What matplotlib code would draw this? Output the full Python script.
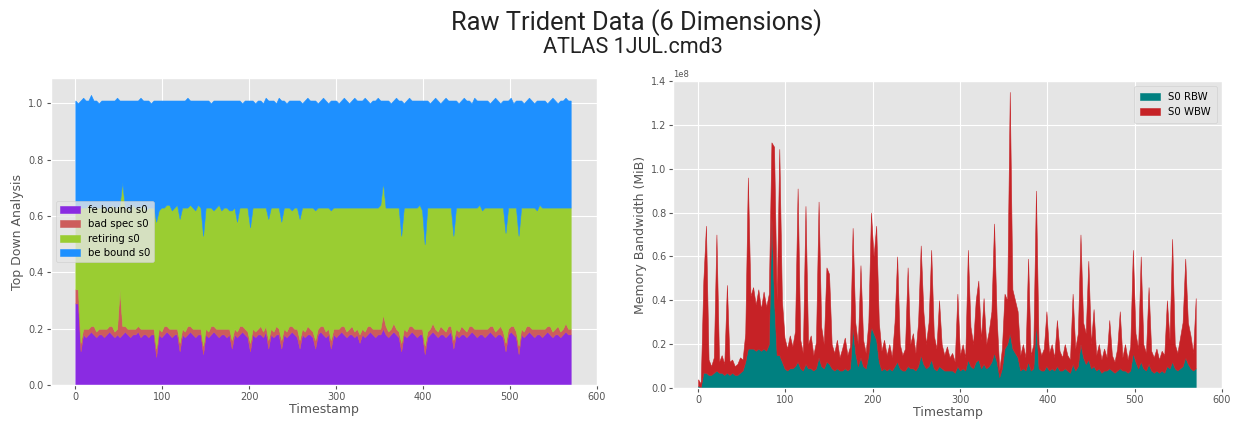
import matplotlib
matplotlib.use("Agg")
import matplotlib.pyplot as plt
import numpy as np

# sampled every 3 timestamps
TIMESTAMPS = np.arange(0, 571, 3)

FE_BOUND = [
    0.29, 0.29, 0.12, 0.18, 0.17, 0.18, 0.19, 0.18, 0.17, 0.18,
    0.18, 0.17, 0.18, 0.19, 0.18, 0.17, 0.18, 0.17, 0.18, 0.19,
    0.18, 0.17, 0.18, 0.18, 0.19, 0.17, 0.18, 0.18, 0.17, 0.18,
    0.18, 0.10, 0.18, 0.17, 0.18, 0.19, 0.18, 0.17, 0.18, 0.18,
    0.12, 0.18, 0.17, 0.18, 0.19, 0.18, 0.17, 0.18, 0.18, 0.11,
    0.18, 0.17, 0.18, 0.19, 0.18, 0.17, 0.18, 0.18, 0.17, 0.18,
    0.13, 0.18, 0.17, 0.18, 0.19, 0.18, 0.17, 0.12, 0.18, 0.17,
    0.18, 0.18, 0.17, 0.19, 0.13, 0.18, 0.17, 0.18, 0.18, 0.13,
    0.18, 0.17, 0.18, 0.19, 0.18, 0.17, 0.13, 0.18, 0.17, 0.18,
    0.18, 0.17, 0.13, 0.18, 0.19, 0.18, 0.17, 0.18, 0.13, 0.18,
    0.17, 0.18, 0.19, 0.18, 0.17, 0.18, 0.18, 0.17, 0.18, 0.15,
    0.18, 0.17, 0.18, 0.19, 0.18, 0.17, 0.18, 0.18, 0.20, 0.18,
    0.17, 0.18, 0.19, 0.18, 0.17, 0.12, 0.18, 0.17, 0.18, 0.19,
    0.18, 0.17, 0.18, 0.18, 0.11, 0.17, 0.18, 0.19, 0.18, 0.17,
    0.18, 0.18, 0.17, 0.18, 0.19, 0.13, 0.18, 0.17, 0.18, 0.18,
    0.17, 0.18, 0.19, 0.18, 0.17, 0.18, 0.18, 0.17, 0.18, 0.19,
    0.18, 0.17, 0.18, 0.18, 0.17, 0.12, 0.18, 0.19, 0.18, 0.17,
    0.11, 0.18, 0.17, 0.18, 0.19, 0.18, 0.17, 0.18, 0.18, 0.17,
    0.18, 0.19, 0.18, 0.17, 0.18, 0.18, 0.17, 0.18, 0.19, 0.18,
    0.18,
]
BAD_SPEC = [
    0.05, 0.05, 0.03, 0.02, 0.03, 0.02, 0.02, 0.03, 0.02, 0.02,
    0.02, 0.03, 0.02, 0.02, 0.03, 0.02, 0.02, 0.17, 0.03, 0.02,
    0.02, 0.03, 0.02, 0.02, 0.02, 0.03, 0.02, 0.02, 0.03, 0.02,
    0.02, 0.03, 0.02, 0.02, 0.03, 0.02, 0.02, 0.03, 0.02, 0.02,
    0.03, 0.02, 0.02, 0.03, 0.02, 0.02, 0.03, 0.02, 0.02, 0.03,
    0.02, 0.02, 0.03, 0.02, 0.02, 0.03, 0.02, 0.02, 0.03, 0.02,
    0.03, 0.02, 0.02, 0.03, 0.02, 0.02, 0.02, 0.03, 0.02, 0.02,
    0.02, 0.03, 0.02, 0.02, 0.03, 0.02, 0.02, 0.03, 0.02, 0.03,
    0.02, 0.02, 0.03, 0.02, 0.02, 0.03, 0.03, 0.02, 0.02, 0.03,
    0.02, 0.02, 0.03, 0.02, 0.02, 0.03, 0.02, 0.02, 0.03, 0.02,
    0.03, 0.02, 0.02, 0.03, 0.02, 0.02, 0.03, 0.02, 0.02, 0.03,
    0.02, 0.02, 0.03, 0.02, 0.02, 0.03, 0.02, 0.02, 0.05, 0.03,
    0.02, 0.02, 0.03, 0.02, 0.02, 0.03, 0.02, 0.02, 0.03, 0.02,
    0.02, 0.03, 0.02, 0.02, 0.03, 0.02, 0.02, 0.03, 0.02, 0.02,
    0.03, 0.02, 0.02, 0.03, 0.02, 0.03, 0.02, 0.02, 0.03, 0.02,
    0.02, 0.03, 0.02, 0.02, 0.03, 0.02, 0.02, 0.03, 0.02, 0.02,
    0.03, 0.02, 0.02, 0.03, 0.02, 0.03, 0.02, 0.02, 0.03, 0.02,
    0.03, 0.02, 0.02, 0.03, 0.02, 0.02, 0.03, 0.02, 0.02, 0.03,
    0.02, 0.02, 0.03, 0.02, 0.02, 0.03, 0.02, 0.02, 0.03, 0.02,
    0.02,
]
RETIRING = [
    0.29, 0.29, 0.48, 0.43, 0.43, 0.44, 0.42, 0.42, 0.44, 0.43,
    0.43, 0.44, 0.42, 0.42, 0.43, 0.44, 0.43, 0.30, 0.51, 0.42,
    0.43, 0.42, 0.44, 0.43, 0.42, 0.43, 0.44, 0.42, 0.43, 0.43,
    0.43, 0.45, 0.42, 0.44, 0.42, 0.43, 0.44, 0.42, 0.43, 0.44,
    0.44, 0.43, 0.44, 0.42, 0.43, 0.43, 0.42, 0.44, 0.43, 0.39,
    0.43, 0.44, 0.42, 0.41, 0.43, 0.44, 0.42, 0.43, 0.43, 0.42,
    0.46, 0.43, 0.39, 0.42, 0.42, 0.43, 0.44, 0.41, 0.43, 0.44,
    0.43, 0.42, 0.44, 0.42, 0.43, 0.43, 0.44, 0.42, 0.43, 0.42,
    0.43, 0.44, 0.42, 0.41, 0.43, 0.43, 0.43, 0.43, 0.44, 0.42,
    0.43, 0.44, 0.46, 0.43, 0.42, 0.42, 0.44, 0.43, 0.46, 0.43,
    0.43, 0.43, 0.42, 0.42, 0.44, 0.43, 0.42, 0.44, 0.43, 0.45,
    0.43, 0.44, 0.42, 0.42, 0.43, 0.43, 0.43, 0.44, 0.47, 0.42,
    0.44, 0.43, 0.41, 0.43, 0.44, 0.38, 0.43, 0.44, 0.42, 0.42,
    0.43, 0.43, 0.44, 0.42, 0.36, 0.44, 0.43, 0.41, 0.43, 0.44,
    0.42, 0.43, 0.44, 0.42, 0.42, 0.37, 0.43, 0.44, 0.42, 0.43,
    0.44, 0.42, 0.42, 0.43, 0.43, 0.44, 0.42, 0.43, 0.43, 0.42,
    0.42, 0.44, 0.43, 0.42, 0.44, 0.39, 0.43, 0.42, 0.42, 0.44,
    0.39, 0.43, 0.44, 0.42, 0.42, 0.43, 0.43, 0.42, 0.44, 0.43,
    0.43, 0.42, 0.42, 0.44, 0.43, 0.42, 0.44, 0.43, 0.41, 0.43,
    0.43,
]
BE_BOUND = [
    0.38, 0.37, 0.38, 0.39, 0.38, 0.37, 0.40, 0.38, 0.38, 0.37,
    0.38, 0.37, 0.39, 0.38, 0.37, 0.38, 0.39, 0.37, 0.29, 0.38,
    0.38, 0.39, 0.37, 0.38, 0.38, 0.39, 0.37, 0.39, 0.38, 0.37,
    0.38, 0.43, 0.39, 0.38, 0.38, 0.37, 0.37, 0.39, 0.38, 0.37,
    0.42, 0.38, 0.38, 0.39, 0.37, 0.38, 0.39, 0.37, 0.38, 0.48,
    0.38, 0.38, 0.37, 0.39, 0.38, 0.37, 0.39, 0.38, 0.38, 0.39,
    0.39, 0.38, 0.43, 0.38, 0.37, 0.38, 0.38, 0.45, 0.38, 0.37,
    0.38, 0.38, 0.37, 0.39, 0.42, 0.38, 0.38, 0.37, 0.39, 0.43,
    0.38, 0.37, 0.38, 0.39, 0.38, 0.38, 0.42, 0.37, 0.38, 0.39,
    0.38, 0.38, 0.39, 0.37, 0.38, 0.39, 0.38, 0.37, 0.39, 0.38,
    0.38, 0.37, 0.38, 0.39, 0.38, 0.37, 0.38, 0.39, 0.38, 0.38,
    0.38, 0.39, 0.38, 0.37, 0.38, 0.38, 0.39, 0.37, 0.29, 0.38,
    0.38, 0.37, 0.38, 0.39, 0.38, 0.48, 0.37, 0.38, 0.39, 0.38,
    0.38, 0.38, 0.37, 0.39, 0.51, 0.38, 0.37, 0.38, 0.39, 0.38,
    0.37, 0.38, 0.39, 0.38, 0.38, 0.48, 0.38, 0.37, 0.38, 0.39,
    0.38, 0.38, 0.37, 0.39, 0.38, 0.37, 0.39, 0.38, 0.38, 0.37,
    0.38, 0.39, 0.38, 0.37, 0.38, 0.47, 0.38, 0.39, 0.37, 0.38,
    0.48, 0.38, 0.37, 0.38, 0.39, 0.38, 0.37, 0.39, 0.37, 0.38,
    0.38, 0.37, 0.38, 0.39, 0.38, 0.37, 0.38, 0.38, 0.39, 0.38,
    0.38,
]

# memory bandwidth, in units of 1e7 MiB
S0_RBW = [
    0.1, 0.05, 0.7, 0.7, 0.6, 0.6, 0.7, 0.8, 0.7, 0.7,
    0.6, 0.7, 0.6, 0.7, 0.6, 0.6, 0.7, 0.8, 1.2, 1.8,
    1.8, 1.8, 1.7, 1.8, 1.7, 1.8, 1.7, 2.0, 7.8, 4.0,
    1.5, 1.5, 1.2, 0.9, 0.8, 0.9, 0.9, 1.0, 1.2, 0.9,
    0.8, 1.1, 0.9, 0.9, 0.8, 0.9, 1.4, 1.0, 0.9, 1.2,
    1.1, 0.9, 0.8, 0.9, 0.8, 0.8, 0.9, 0.8, 0.9, 2.8,
    1.6, 1.0, 1.4, 1.0, 0.9, 1.5, 2.8, 2.5, 2.2, 1.2,
    0.8, 0.9, 0.8, 0.9, 0.8, 1.0, 1.2, 0.9, 0.8, 0.8,
    1.0, 0.9, 0.9, 0.8, 1.0, 1.5, 1.1, 0.9, 1.0, 1.3,
    0.9, 0.8, 1.0, 0.9, 0.8, 0.8, 0.8, 0.8, 0.7, 1.0,
    0.8, 0.9, 0.8, 1.3, 1.0, 0.9, 1.2, 1.3, 0.9, 1.1,
    0.9, 1.0, 1.2, 1.6, 1.2, 0.5, 0.9, 1.8, 2.0, 2.5,
    1.8, 1.6, 1.4, 0.8, 0.9, 0.8, 1.2, 0.8, 0.9, 3.0,
    0.9, 0.8, 0.8, 1.0, 0.8, 0.9, 0.8, 1.0, 0.8, 0.8,
    0.9, 0.8, 0.7, 1.1, 0.8, 1.0, 2.0, 1.4, 1.1, 1.3,
    0.9, 1.0, 0.8, 0.9, 0.7, 0.8, 0.8, 0.9, 0.8, 0.7,
    0.8, 0.9, 0.8, 0.8, 0.7, 0.8, 1.6, 1.2, 0.9, 1.2,
    0.9, 0.8, 1.1, 0.8, 0.7, 0.8, 0.7, 0.8, 0.7, 1.0,
    0.9, 1.2, 0.9, 0.8, 0.9, 1.0, 1.4, 1.1, 0.9, 0.8,
    0.9,
]
S0_WBW = [
    0.3, 0.15, 4.2, 6.7, 0.7, 0.4, 0.7, 6.2, 0.5, 0.8,
    0.5, 4.0, 0.6, 0.6, 0.4, 0.5, 0.7, 0.5, 1.3, 7.8,
    2.4, 2.8, 2.1, 2.7, 1.9, 2.6, 2.0, 2.3, 3.4, 7.0,
    2.5, 9.4, 2.8, 1.4, 1.0, 1.5, 1.0, 1.6, 7.9, 1.3,
    0.8, 7.2, 1.1, 1.5, 0.7, 1.2, 7.1, 1.8, 1.1, 4.3,
    4.1, 1.1, 0.8, 1.3, 0.6, 1.0, 1.4, 0.7, 1.0, 4.5,
    1.4, 1.0, 4.2, 1.2, 0.7, 1.5, 5.2, 3.5, 5.2, 1.8,
    0.9, 1.3, 0.7, 1.1, 0.6, 2.0, 4.8, 1.1, 0.7, 1.0,
    4.5, 1.1, 1.6, 0.8, 2.0, 5.0, 2.4, 1.1, 2.0, 5.0,
    1.5, 1.0, 3.0, 1.1, 0.7, 1.1, 0.6, 0.8, 0.5, 3.3,
    0.7, 1.1, 0.6, 5.0, 1.8, 1.1, 2.8, 3.6, 1.3, 3.0,
    1.1, 1.6, 2.3, 5.9, 2.0, 0.3, 0.9, 2.5, 2.0, 11.0,
    2.7, 2.4, 2.1, 0.7, 1.1, 0.6, 4.7, 0.7, 1.1, 6.0,
    1.1, 0.7, 1.0, 2.5, 0.8, 1.1, 0.6, 2.1, 0.9, 0.6,
    1.1, 0.7, 0.6, 3.2, 1.0, 1.5, 5.0, 1.6, 1.4, 4.5,
    1.1, 2.6, 0.7, 1.1, 0.6, 1.0, 0.6, 2.2, 0.7, 0.5,
    1.0, 2.6, 0.6, 1.2, 0.6, 1.1, 4.7, 1.3, 0.9, 4.8,
    1.1, 0.8, 3.5, 0.9, 0.7, 1.0, 0.6, 0.9, 0.8, 3.0,
    1.3, 5.6, 1.1, 0.8, 1.4, 2.0, 4.5, 1.9, 1.5, 0.8,
    3.2,
]

TOPDOWN_LABELS = ["fe bound s0", "bad spec s0", "retiring s0", "be bound s0"]
TOPDOWN_COLORS = ["blueviolet", "indianred", "yellowgreen", "dodgerblue"]
BW_LABELS = ["S0 RBW", "S0 WBW"]
BW_COLORS = ["teal", "#c62226"]

plt.style.use("ggplot")
fig = plt.figure(figsize=(12.33, 4.26), dpi=100)

fig.text(0.516, 0.946, "Raw Trident Data (6 Dimensions)", ha="center", va="center",
         fontsize=18.3, family="Roboto", color="#222222")
fig.text(0.513, 0.888, "ATLAS 1JUL.cmd3", ha="center", va="center",
         fontsize=15.5, family="Roboto", color="#222222")

# left: top-down analysis
ax1 = fig.add_axes([0.041, 0.096, 0.443, 0.721])
ax1.stackplot(TIMESTAMPS, FE_BOUND, BAD_SPEC, RETIRING, BE_BOUND,
              labels=TOPDOWN_LABELS, colors=TOPDOWN_COLORS, linewidth=0.4,
              edgecolor="face")
ax1.set_xlim(-28.5, 598.5)
ax1.set_ylim(0, 1.09)
ax1.set_xticks(range(0, 601, 100))
ax1.set_yticks(np.arange(0, 1.01, 0.2))
ax1.set_xlabel("Timestamp", fontsize=9, color="#555555", labelpad=1)
ax1.set_ylabel("Top Down Analysis", fontsize=9, color="#555555", labelpad=3)
ax1.tick_params(labelsize=7, colors="#555555", length=3, pad=2)
ax1.legend(loc="center left", fontsize=7.3, handlelength=2.0, borderpad=0.4,
           labelspacing=0.45)

# right: memory bandwidth
rbw = np.array(S0_RBW) * 1e7
wbw = np.array(S0_WBW) * 1e7
ax2 = fig.add_axes([0.546, 0.089, 0.445, 0.721])
ax2.stackplot(TIMESTAMPS, rbw, wbw, labels=BW_LABELS, colors=BW_COLORS,
              linewidth=0.4, edgecolor="face")
ax2.set_xlim(-28.5, 598.5)
ax2.set_ylim(0, 1.4e8)
ax2.set_xticks(range(0, 601, 100))
ax2.set_yticks(np.arange(0, 1.41e8, 0.2e8))
ax2.set_xlabel("Timestamp", fontsize=9, color="#555555", labelpad=1)
ax2.set_ylabel("Memory Bandwidth (MiB)", fontsize=9, color="#555555", labelpad=3)
ax2.tick_params(labelsize=7, colors="#555555", length=3, pad=2)
ax2.yaxis.get_offset_text().set_fontsize(6)
ax2.legend(loc="upper right", fontsize=7.3, handlelength=2.0, borderpad=0.6,
           labelspacing=0.45)

fig.savefig("out.png", dpi=100)
